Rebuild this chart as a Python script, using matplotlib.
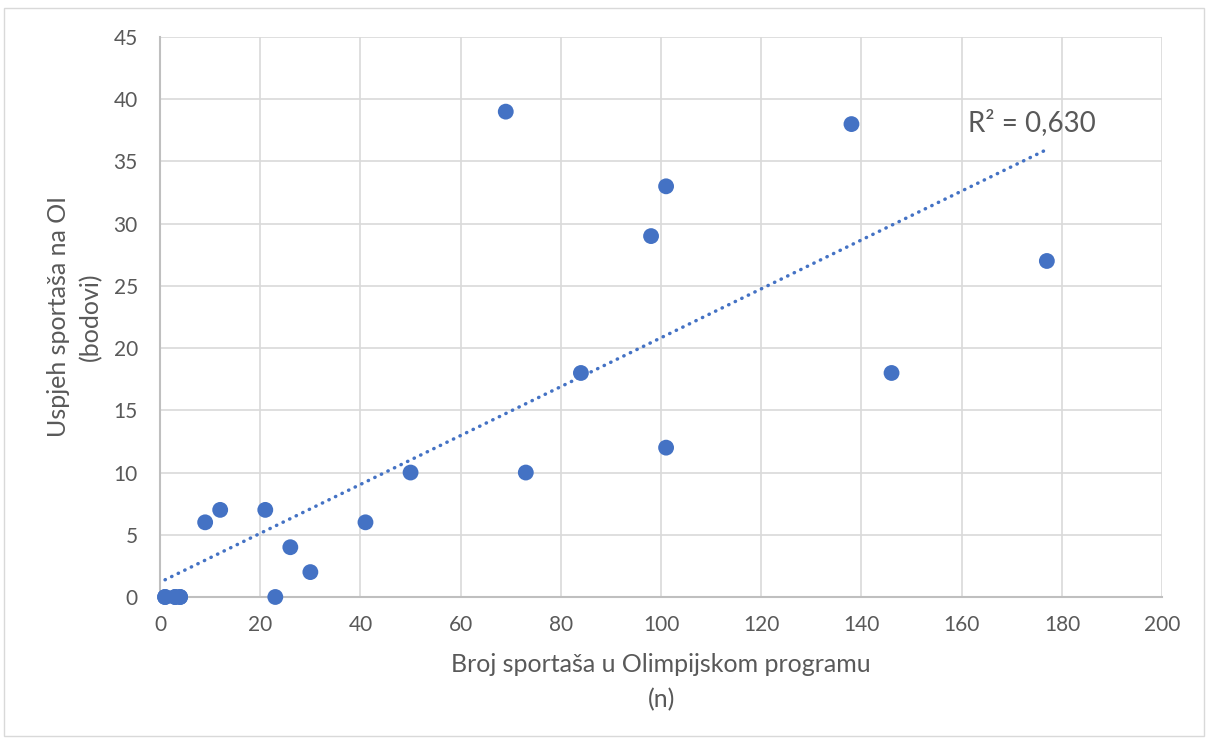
import numpy as np
import matplotlib.pyplot as plt

plt.rcParams['font.family'] = ['Lato', 'DejaVu Sans']

# broj sportasa (n) i uspjeh (bodovi); kod ishodista se neke tocke preklapaju
broj_sportasa = [1, 1, 3, 3, 4, 4, 9, 12, 21, 23, 26, 30, 41, 50, 69, 73, 84, 98, 101, 101, 138, 146, 177]
bodovi = [0, 0, 0, 0, 0, 0, 6, 7, 7, 0, 4, 2, 6, 10, 39, 10, 18, 29, 33, 12, 38, 18, 27]
r2_tekst = 'R² = 0,630'

x = np.array(broj_sportasa, dtype=float)
y = np.array(bodovi, dtype=float)

siva = '#595959'
plava = '#4472C4'

fig = plt.figure(figsize=(12.08, 7.44), dpi=100)
ax = fig.add_axes([0.1325, 0.1976, 0.8295, 0.7527])

# okvir oko cijelog grafikona
fig.patches.append(plt.Rectangle((0.003, 0.011), 0.994, 0.978, transform=fig.transFigure,
                                 fill=False, edgecolor='#D9D9D9', linewidth=1))

ax.scatter(x, y, s=130, color=plava, zorder=3, edgecolors='none', clip_on=False)

# linearni trend
k, b = np.polyfit(x, y, 1)
xt = np.linspace(x.min(), x.max(), 100)
ax.plot(xt, k * xt + b, linestyle=(0, (0.1, 2)), dash_capstyle='round',
        color=plava, linewidth=2.5, zorder=2)

ax.text(161.3, 38.1, r2_tekst, fontsize=20, color=siva, va='center')

ax.set_xlim(0, 200)
ax.set_ylim(0, 45)
ax.set_xticks(np.arange(0, 201, 20))
ax.set_yticks(np.arange(0, 46, 5))
ax.grid(True, color='#D9D9D9', linewidth=1.2)
ax.set_axisbelow(True)
for s in ['top', 'right']:
    ax.spines[s].set_visible(False)
for s in ['bottom', 'left']:
    ax.spines[s].set_color('#BFBFBF')
    ax.spines[s].set_linewidth(1.5)
ax.tick_params(length=0, labelsize=15, colors=siva)
ax.tick_params(axis='x', pad=13)
ax.tick_params(axis='y', pad=16)

ax.set_xlabel('Broj sportaša u Olimpijskom programu\n(n)', fontsize=18, color=siva, linespacing=1.6)
ax.set_ylabel('Uspjeh sportaša na OI\n(bodovi)', fontsize=18, color=siva, linespacing=1.45)
ax.xaxis.set_label_coords(0.5, -0.1)
ax.yaxis.set_label_coords(-0.058, 0.5)

fig.savefig('out.png', dpi=100)
